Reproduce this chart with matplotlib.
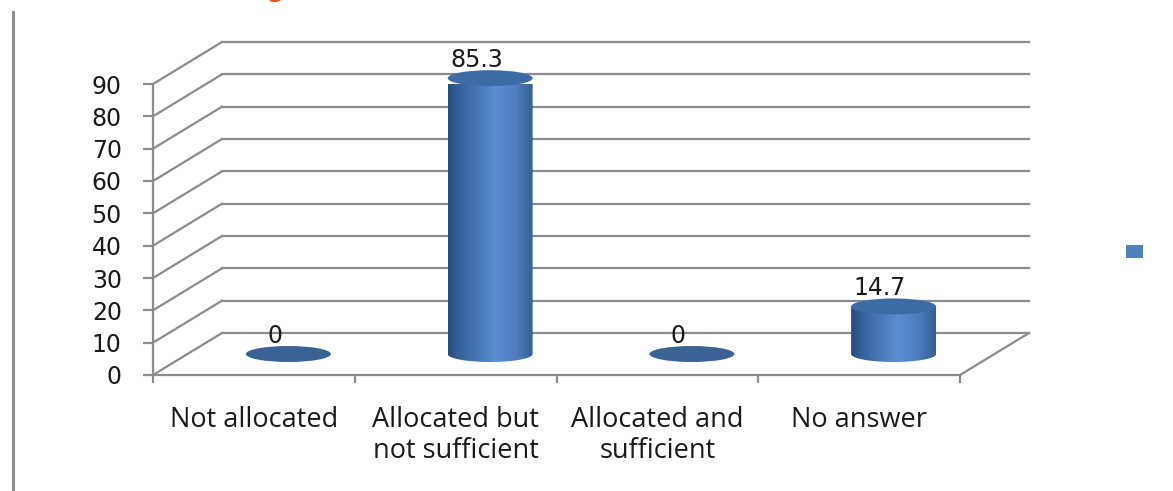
import numpy as np
import matplotlib
matplotlib.use("Agg")
import matplotlib.pyplot as plt
from matplotlib.patches import Ellipse, PathPatch, Patch
from matplotlib.path import Path
from matplotlib.lines import Line2D
from matplotlib.colors import LinearSegmentedColormap

# ---- data -------------------------------------------------------------
categories = ["Not allocated", "Allocated but\nnot sufficient",
              "Allocated and\nsufficient", "No answer"]
values = [0, 85.3, 0, 14.7]
value_labels = ["0", "85.3", "0", "14.7"]
y_ticks = [0, 10, 20, 30, 40, 50, 60, 70, 80, 90]

# ---- styling ------------------------------------------------------------
GRID = "#8c8c8c"
TEXT = "#1a1a1a"
DEPTH_PX = (69, 42)        # offset of the back wall, in pixels
CYL_W_PX = 85              # cylinder diameter, in pixels
ELL_H_PX = 16              # apparent height of an elliptical cap, in pixels

cyl_cmap = LinearSegmentedColormap.from_list(
    "cyl", [(0.0, "#284b7a"), (0.12, "#34609a"), (0.55, "#5a8fd2"),
            (0.8, "#4d7dbd"), (1.0, "#335d94")])
TOP_COLOR = "#3d6ba6"

W, H, DPI = 1173, 491, 100
fig = plt.figure(figsize=(W / DPI, H / DPI), dpi=DPI)
fig.patch.set_facecolor("white")

ax = fig.add_axes([153 / W, (H - 375) / H, 807 / W, (375 - 84) / H])
ax.set_xlim(0, len(categories))
ax.set_ylim(0, 90)
for s in ax.spines.values():
    s.set_visible(False)
ax.patch.set_visible(False)

# pixel -> data scale factors
p0 = ax.transData.transform((0, 0))
p1 = ax.transData.transform((1, 1))
sx, sy = p1[0] - p0[0], p1[1] - p0[1]
DX, DY = DEPTH_PX[0] / sx, DEPTH_PX[1] / sy
CW = CYL_W_PX / sx
EH = ELL_H_PX / sy
n = len(categories)

# ---- walls and grid -----------------------------------------------------
lw = 1.6
for t in y_ticks:
    # back wall gridline
    ax.add_line(Line2D([DX, n + DX], [t + DY, t + DY], color=GRID, lw=lw,
                       clip_on=False, zorder=1))
    # side wall line
    ax.add_line(Line2D([0, DX], [t, t + DY], color=GRID, lw=lw,
                       clip_on=False, zorder=1))
# floor right edge and front edge, vertical axis
ax.add_line(Line2D([n, n + DX], [0, DY], color=GRID, lw=lw, clip_on=False, zorder=1))
ax.add_line(Line2D([0, n], [0, 0], color=GRID, lw=lw, clip_on=False, zorder=1))
ax.add_line(Line2D([0, 0], [0, 90], color=GRID, lw=lw, clip_on=False, zorder=1))

# ---- ticks ------------------------------------------------------------
ax.set_yticks(y_ticks)
ax.set_yticklabels([str(t) for t in y_ticks])
ax.tick_params(axis="y", length=7.5, width=lw, color=GRID, pad=15,
               labelsize=17, labelcolor=TEXT)
ax.set_xticks(np.arange(n + 1))
ax.set_xticklabels([])
ax.set_xticks(np.arange(n) + 0.5, minor=True)
ax.set_xticklabels(categories, minor=True, fontfamily="Open Sans",
                   fontsize=19.5, color=TEXT, linespacing=1.17)
ax.tick_params(axis="x", which="major", length=6, width=lw, color=GRID,
               direction="out")
ax.tick_params(axis="x", which="minor", length=0, pad=22)

# ---- cylinders ----------------------------------------------------------
grad = np.linspace(0, 1, 256).reshape(1, -1)
for i, v in enumerate(values):
    cx = i + 0.5 + DX / 2
    base = DY / 2
    top = v + DY / 2
    left, right = cx - CW / 2, cx + CW / 2
    if v > 0:
        # body outline: sides plus the lower half of the base ellipse
        theta = np.linspace(np.pi, 2 * np.pi, 60)
        arc = np.column_stack([cx + CW / 2 * np.cos(theta),
                               base + EH / 2 * np.sin(theta)])
        verts = np.vstack([[left, top], arc, [right, top], [left, top]])
        body = PathPatch(Path(verts), transform=ax.transData)
        im = ax.imshow(grad, cmap=cyl_cmap, aspect="auto",
                       extent=[left, right, base - EH / 2, top],
                       interpolation="bilinear", zorder=3)
        im.set_clip_path(body)
        im.set_clip_box(None)
    cap = Ellipse((cx, top), CW, EH, facecolor=TOP_COLOR if v > 0 else "#3a6295",
                  edgecolor="none", zorder=4, clip_on=False)
    ax.add_patch(cap)
    # value label above the cap
    ax.annotate(value_labels[i], (i + 0.5 + DX * 0.3, top),
                xytext=(0, (ELL_H_PX / 2 + 3) * 0.72),
                textcoords="offset points", ha="center", va="baseline",
                fontsize=17, color=TEXT, zorder=5, annotation_clip=False)

ax.set_xlim(0, n)
ax.set_ylim(0, 90)

# ---- legend (single unlabeled series) -----------------------------------
fig.legend(handles=[Patch(facecolor="#4f81bd", edgecolor="none")], labels=[""],
           loc="center left", bbox_to_anchor=(1126 / W, (H - 252) / H),
           frameon=False, fontsize=10, handlelength=1.22, handleheight=1.05,
           borderpad=0, borderaxespad=0, handletextpad=0)

# ---- frame line on the left and clipped heading ---------------------------
fig.add_artist(Line2D([13 / W, 13 / W], [0, (H - 12) / H], color="#8f8f8f",
                      lw=2.2, transform=fig.transFigure))
fig.text(276 / W, 1 + 3 / H, "g", ha="center", va="baseline", color="#e0521e",
         fontsize=18, fontweight="bold")

fig.savefig("out.png", dpi=DPI)
